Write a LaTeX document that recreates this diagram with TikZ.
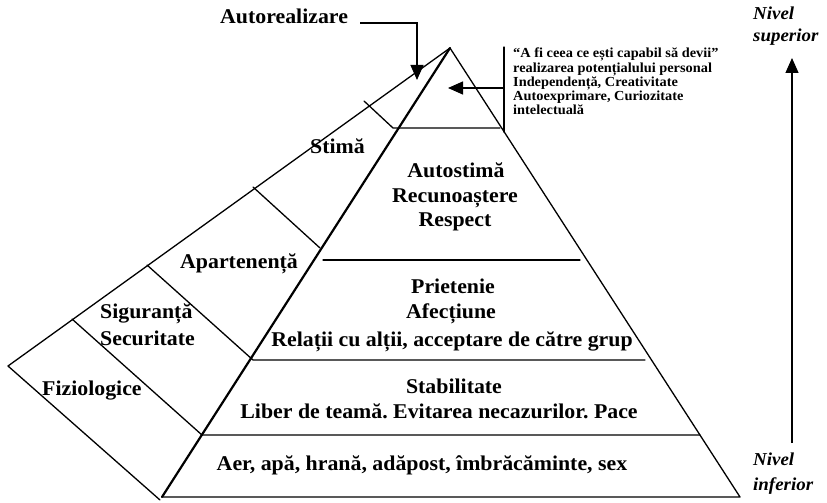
\documentclass[tikz,border=0pt]{standalone}
\usepackage{fontspec}
\setmainfont{Liberation Serif}[FakeStretch=1.04]
\usetikzlibrary{arrows.meta}
\frenchspacing
\begin{document}
\begin{tikzpicture}[x=1pt,y=-1pt,
  edge/.style={line width=1.3pt, line cap=round, line join=round},
  frontedge/.style={line width=2.2pt, line cap=round},
  lbl/.style={font=\fontsize{21}{24}\selectfont\bfseries, inner sep=0pt},
  note/.style={font=\fontsize{13.8}{14}\selectfont\bfseries, inner sep=0pt, anchor=base west},
  lvl/.style={font=\fontsize{18.2}{20}\selectfont\bfseries\itshape, inner sep=0pt, anchor=base west},
  pointer/.style={line width=1.3pt, -{Triangle[width=13pt,length=15pt]}},
]
\useasboundingbox (0,0) rectangle (827,503);

% corners of the pyramid
\coordinate (apex) at (450,48);
\coordinate (fbl) at (162,497);
\coordinate (fbr) at (740,497);
\coordinate (bleft) at (8,366);
\coordinate (bbot) at (160,500);

% back (side) face
\draw[edge] (apex) -- (bleft) -- (bbot);
% front face
\draw[edge] (apex) -- (fbr) -- (fbl);
\draw[frontedge] (apex) -- (fbl);

% level dividers: slanted on the side face, horizontal on the front
\coordinate (s1a) at (364,101); \coordinate (s1b) at (393,128); \coordinate (h1) at (500,128);
\coordinate (s2a) at (253,187); \coordinate (s2b) at (320,248);
\coordinate (h2a) at (323,260); \coordinate (h2b) at (580,260);
\coordinate (s3a) at (147,265); \coordinate (s3b) at (253,360); \coordinate (h3) at (645,360);
\coordinate (s4a) at (72,319);  \coordinate (s4b) at (202,435); \coordinate (h4) at (700,435);
\draw[edge] (s1a) -- (s1b) -- (h1);
\draw[edge] (s2a) -- (s2b);
\draw[edge] (h2a) -- (h2b);
\draw[edge] (s3a) -- (s3b) -- (h3);
\draw[edge] (s4a) -- (s4b) -- (h4);

% side face labels
\node[lbl, anchor=base west] (stima) at (310,153) {Stimă};
\node[lbl, anchor=base west] (apart) at (180,268) {Apartenență};
\node[lbl, anchor=base west] (sigur) at (100,318) {Siguranță};
\node[lbl, anchor=base west] (secur) at (100,345) {Securitate};
\node[lbl, anchor=base west] (fizio) at (42,395) {Fiziologice};

% front face labels
\node[lbl, anchor=base] (as1) at (456,177) {Autostimă};
\node[lbl, anchor=base] (as2) at (455,202) {Recunoaștere};
\node[lbl, anchor=base] (as3) at (455,226) {Respect};
\node[lbl, anchor=base] (pr1) at (453,293) {Prietenie};
\node[lbl, anchor=base] (pr2) at (451,318) {Afecțiune};
\node[lbl, anchor=base] (pr3) at (452,346) {Relații cu alții, acceptare de către grup};
\node[lbl, anchor=base] (st1) at (454,393) {Stabilitate};
\node[lbl, anchor=base] (st2) at (439,418) {Liber de teamă. Evitarea necazurilor. Pace};
\node[lbl, anchor=base] (ph1) at (422,470) {Aer, apă, hrană, adăpost, îmbrăcăminte, sex};

% top level callout
\node[lbl, anchor=base west] (autor) at (220,24) {Autorealizare};
\coordinate (autorstart) at (360,23);
\coordinate (autortip) at (417,80);
\draw[pointer] (autorstart) -| (autortip);

\node[note] (n1) at (513,58) {“A fi ceea ce ești capabil să devii”};
\node[note] (n2) at (513,72) {realizarea potențialului personal};
\node[note] (n3) at (513,86) {Independență, Creativitate};
\node[note] (n4) at (513,100) {Autoexprimare, Curiozitate};
\node[note] (n5) at (513,114) {intelectuală};
\coordinate (brtop) at (504,47);
\coordinate (brbot) at (504,132);
\coordinate (brmid) at (504,88);
\coordinate (brtip) at (448,88);
\draw[edge] (brtop) -- (brbot);
\draw[pointer] (brmid) -- (brtip);

% level scale
\node[lvl] (sup1) at (753,20) {Nivel};
\node[lvl] (sup2) at (753,42) {superior};
\node[lvl] (inf1) at (753,465) {Nivel};
\node[lvl] (inf2) at (753,490) {inferior};
\coordinate (scalebot) at (792,443);
\coordinate (scaletop) at (792,58);
\draw[pointer] (scalebot) -- (scaletop);
\end{tikzpicture}
\end{document}
